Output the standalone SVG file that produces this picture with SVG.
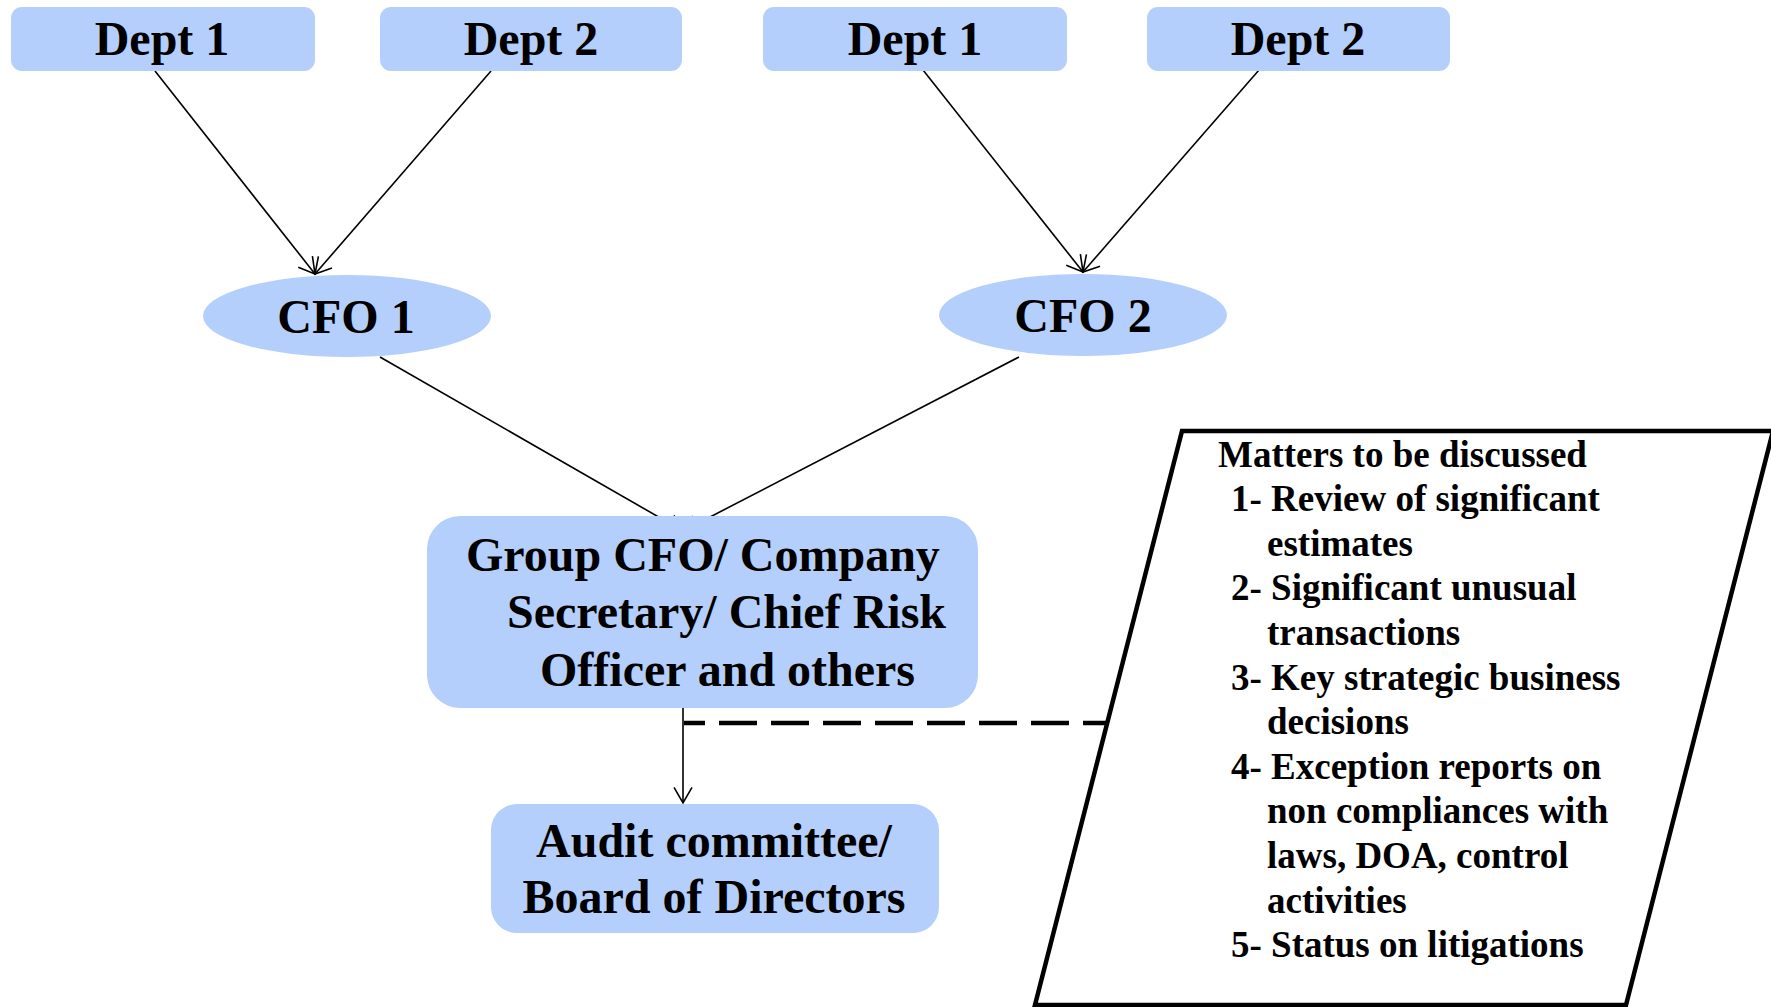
<svg xmlns="http://www.w3.org/2000/svg" width="1771" height="1007" viewBox="0 0 1771 1007">
<style>
.box{fill:#b4cffb}
.t{font-family:"Liberation Serif","Times New Roman",serif;font-weight:bold;fill:#000}
.big{font-size:48px}
.small{font-size:37px}
.c{text-anchor:middle}
.conn{stroke:#000;stroke-width:1.6;fill:none}
</style>
<defs>
<marker id="arr" viewBox="-20 -12 24 24" refX="0" refY="0" markerWidth="24" markerHeight="24" markerUnits="userSpaceOnUse" orient="auto">
<path d="M -15.6 -9 L 0 0 L -15.6 9" fill="none" stroke="#000" stroke-width="1.6"/>
</marker>
</defs>
<rect width="1771" height="1007" fill="#fff"/>
<g id="connectors">
<line class="conn" x1="155" y1="71" x2="315" y2="274" marker-end="url(#arr)"/>
<line class="conn" x1="491" y1="71" x2="315" y2="274" marker-end="url(#arr)"/>
<line class="conn" x1="923" y1="70" x2="1083" y2="272" marker-end="url(#arr)"/>
<line class="conn" x1="1259" y1="70" x2="1083" y2="272" marker-end="url(#arr)"/>
<line class="conn" x1="380" y1="357" x2="683" y2="531" marker-end="url(#arr)"/>
<line class="conn" x1="1019" y1="357" x2="683" y2="531" marker-end="url(#arr)"/>
<line class="conn" x1="683" y1="708" x2="683" y2="803" marker-end="url(#arr)"/>
<line x1="684" y1="723" x2="1107" y2="723" stroke="#000" stroke-width="4.5" stroke-dasharray="38 14" stroke-dashoffset="17"/>
</g>
<g id="dept1-left">
<rect class="box" x="11" y="7" width="304" height="64" rx="11"/>
<text class="t big c" x="162" y="55">Dept 1</text>
</g>
<g id="dept2-left">
<rect class="box" x="380" y="7" width="302" height="64" rx="11"/>
<text class="t big c" x="531" y="55">Dept 2</text>
</g>
<g id="dept1-right">
<rect class="box" x="763" y="7" width="304" height="64" rx="11"/>
<text class="t big c" x="915" y="55">Dept 1</text>
</g>
<g id="dept2-right">
<rect class="box" x="1147" y="7" width="303" height="64" rx="11"/>
<text class="t big c" x="1298" y="55">Dept 2</text>
</g>
<g id="cfo1">
<ellipse class="box" cx="347" cy="316" rx="144" ry="41"/>
<text class="t big c" x="346" y="333">CFO 1</text>
</g>
<g id="cfo2">
<ellipse class="box" cx="1083" cy="315" rx="144" ry="41"/>
<text class="t big c" x="1083" y="332">CFO 2</text>
</g>
<g id="group-cfo">
<rect class="box" x="427" y="516" width="551" height="192" rx="33"/>
<text class="t big" x="466" y="571">Group CFO/ Company</text>
<text class="t big" x="507" y="628">Secretary/ Chief Risk</text>
<text class="t big" x="540" y="686">Officer and others</text>
</g>
<g id="audit-committee">
<rect class="box" x="491" y="804" width="448" height="129" rx="26"/>
<text class="t big c" x="714" y="857">Audit committee/</text>
<text class="t big c" x="714" y="913">Board of Directors</text>
</g>
<g id="matters">
<polygon points="1182,431 1773,431 1626,1005 1035,1005" fill="#fff" stroke="#000" stroke-width="4.5"/>
<text class="t small" x="1218" y="467">Matters to be discussed</text>
<text class="t small" x="1231" y="511">1- Review of significant</text>
<text class="t small" x="1267" y="556">estimates</text>
<text class="t small" x="1231" y="600">2- Significant unusual</text>
<text class="t small" x="1267" y="645">transactions</text>
<text class="t small" x="1231" y="690">3- Key strategic business</text>
<text class="t small" x="1267" y="734">decisions</text>
<text class="t small" x="1231" y="779">4- Exception reports on</text>
<text class="t small" x="1267" y="823">non compliances with</text>
<text class="t small" x="1267" y="868">laws, DOA, control</text>
<text class="t small" x="1267" y="913">activities</text>
<text class="t small" x="1231" y="957">5- Status on litigations</text>
</g>
</svg>
